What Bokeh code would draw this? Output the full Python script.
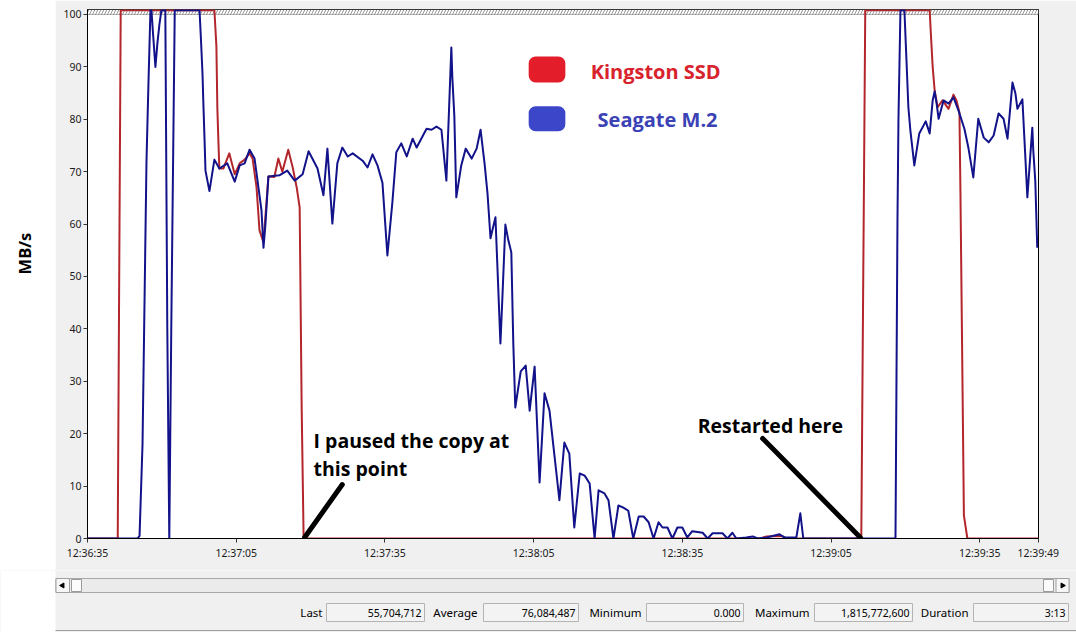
import math
from bokeh.plotting import figure
from bokeh.models import Range1d, FixedTicker, BoxAnnotation, Label
from bokeh.layouts import row, column
from bokeh.embed import file_html
from bokeh.resources import INLINE
from bokeh.core.properties import value

# ---------------- data (seconds since 12:36:35, MB/s; 100.8 = clipped at chart top) ----
red_t = [0, 6.1, 6.7, 25.6, 26.0, 26.2, 26.4, 26.6, 27.4, 28.6, 29.7, 30.7, 31.7, 32.7, 33.3,
         34.1, 34.7, 35.5, 36.5, 37.7, 38.5, 39.3, 40.5, 41.4, 42.2, 42.8, 43.2, 43.6, 135.6,
         137.0, 140.0, 141.0, 156.1, 156.9, 169.9, 170.1, 170.5, 170.9, 171.5, 172.5, 173.7,
         174.7, 175.3, 175.9, 176.1, 176.8, 177.5, 191.8]
red_v = [0, 0, 100.8, 100.8, 94, 82, 76, 70.6, 70.6, 73.5, 69.5, 71.6, 72.3, 73.5, 72.5,
         67, 58.8, 56.5, 69.1, 69, 72.5, 70, 74.2, 70.8, 67, 63.2, 25.4, 0, 0,
         0.4, 0.5, 0, 0, 100.8, 100.8, 97, 90, 85.5, 82.3, 83.6, 82,
         84.7, 83.6, 81.3, 66.4, 4.4, 0, 0]

blue_t = [0, 10.1, 10.5, 11.1, 11.9, 12.3, 12.7, 12.9, 13.2, 13.7, 14.1, 14.5, 14.9, 15.7, 16.1,
          16.5, 16.9, 17.6, 22.6, 22.9, 23.2, 23.4, 23.6, 23.8, 24.6, 25.6, 26.6, 28.2, 29.7,
          30.7, 31.7, 32.7, 33.7, 34.3, 35.1, 35.5, 35.9, 36.5, 38.7, 40.3, 41.8, 43.4, 44.6,
          46.4, 47.6, 48.4, 49.4, 50.4, 51.4, 52.5, 53.5, 55.5, 56.5, 57.5, 58.5, 59.5, 60.5,
          61.5, 62.3, 63.3, 64.4, 65.6, 66.4, 68.4, 69.4, 70.4, 71.4, 72.4, 73.4, 73.6, 74.0,
          74.4, 75.4, 76.3, 77.5, 78.5, 79.3, 80.1, 80.7, 81.3, 82.3, 82.7, 83.3, 83.7, 84.3,
          84.9, 85.5, 85.9, 86.3, 87.4, 88.4, 89.2, 90.2, 91.2, 92.2, 93.2, 95.2, 96.2, 97.2,
          98.2, 99.3, 100.3, 101.3, 102.3, 103.1, 104.3, 105.1, 106.1, 107.1, 108.1, 109.1,
          110.1, 111.2, 112.2, 113.2, 114.2, 115.2, 116.0, 117.0, 118.0, 119.0, 120.0, 121.0,
          122.0, 124.1, 125.1, 126.1, 128.1, 129.1, 130.1, 130.9, 132.9, 134.2, 135.2, 137.0,
          139.6, 140.6, 143.0, 143.8, 144.4, 163.0, 163.4, 163.6, 164.0, 164.8, 165.2, 165.6,
          166.0, 166.8, 167.8, 169.1, 169.9, 170.5, 170.9, 171.3, 171.7, 172.7, 173.7, 174.7,
          175.7, 176.9, 177.7, 178.7, 179.7, 180.8, 181.8, 182.8, 183.8, 184.8, 185.6, 186.6,
          187.2, 187.6, 188.6, 189.2, 189.6, 190.6, 190.8, 191.2, 191.6]
blue_v = [0, 0, 0.5, 18, 72, 87, 100.8, 100.8, 96.6, 90, 94.5, 98, 100.8, 100.8, 40,
          0, 40, 100.8, 100.8, 95, 88.7, 82.3, 76.5, 70.2, 66.3, 72.3, 70.6, 71.6, 68.1,
          71.2, 71.6, 74.2, 72.5, 68.3, 62.6, 55.5, 60, 69.1, 69.3, 70.2, 68.3, 69.5, 73.9,
          70.6, 65.5, 74.4, 60.1, 71.6, 74.6, 72.9, 73.5, 72.1, 70.8, 73.3, 71.2, 67.9, 54,
          64.1, 73.7, 75.4, 72.9, 76.3, 74.6, 78.2, 78, 78.6, 78, 68.3, 93.7, 88, 80.7,
          65.1, 71.2, 74.4, 72.5, 74.4, 78, 71.6, 65.8, 57.3, 61.3, 51.7, 37.2, 46, 59.9,
          56.9, 54.6, 37.2, 25, 31.9, 33, 24.4, 32.8, 10.7, 27.7, 24.4, 7.3, 18.3, 16.2,
          2.1, 12.4, 12, 10.5, 0, 9.2, 8.6, 7.3, 0, 6.3, 5.9, 5.3,
          0, 4.2, 4.2, 3.1, 0, 3.1, 2.1, 2.1, 0, 2.1, 2.1, 0.2,
          1.4, 1.1, 0, 1, 1, 0, 1.1, 0, 0.2, 0.4, 0, 0.2,
          0.8, 0.2, 0.2, 4.8, 0, 0, 60.7, 80, 100.8, 100.8, 91.6, 82.3,
          77.9, 71.2, 77.3, 79.6, 77.3, 83.6, 85.3, 83, 80.1, 83.6, 83, 84.2,
          81.7, 78.2, 74.6, 68.9, 80.1, 76.5, 75.6, 76.9, 81.1, 80.1, 76.3, 87,
          84.9, 82, 83.8, 72.7, 65.1, 78.4, 74, 68.3, 55.5]

y_ticks = [0, 10, 20, 30, 40, 50, 60, 70, 80, 90, 100]
x_tick_secs = [0, 30, 60, 90, 120, 150, 180, 191.8]
x_tick_labels = ["12:36:35", "12:37:05", "12:37:35", "12:38:05", "12:38:35",
                 "12:39:05", "12:39:35", "12:39:49"]

series_names = ["Kingston SSD", "Seagate M.2"]
note_paused = ["I paused the copy at", "this point"]
note_restart = "Restarted here"

status_labels = ["Last", "Average", "Minimum", "Maximum", "Duration"]
status_values = ["55,704,712", "76,084,487", "0.000", "1,815,772,600", "3:13"]

# ---------------- styles ----------------
RED_LINE = "#b3262c"
BLUE_LINE = "#12128a"
RED_KEY = "#e41d2a"
BLUE_KEY = "#3b46c9"
RED_TXT = "#d8222c"
BLUE_TXT = "#3a42b6"
PANEL = "#f0f0f0"
BOLD_FONT = "Open Sans"
UI_FONT = "Noto Sans"

# ---------------- main chart ----------------
p = figure(width=1021, height=570, x_range=Range1d(0, 191.85), y_range=Range1d(0, 100.95),
           output_backend="svg", toolbar_location=None,
           min_border_left=32, min_border_right=38, min_border_top=9, min_border_bottom=32,
           border_fill_color=PANEL, background_fill_color="white",
           outline_line_color="black", outline_line_width=1)
p.grid.visible = False

p.yaxis.ticker = FixedTicker(ticks=y_ticks)
p.xaxis.ticker = FixedTicker(ticks=x_tick_secs)
p.xaxis.major_label_overrides = {t: lab for t, lab in zip(x_tick_secs, x_tick_labels)}
for ax in (p.xaxis[0], p.yaxis[0]):
    ax.minor_tick_line_color = None
    ax.major_tick_in = 0
    ax.major_tick_out = 4
    ax.axis_line_color = "black"
    ax.major_tick_line_color = "#333333"
    ax.major_label_text_font = UI_FONT
    ax.major_label_text_font_size = "10.5px"
    ax.major_label_text_color = "#1a1a1a"
p.xaxis.major_label_standoff = 3
p.yaxis.major_label_standoff = 2

# hatched band above 100
p.add_layout(BoxAnnotation(bottom=100, fill_color="white", fill_alpha=1,
                           hatch_pattern="/", hatch_color="#7a7a7a", hatch_scale=6,
                           hatch_weight=0.8, line_color="black", line_width=1,
                           level="underlay"))

p.line(red_t, red_v, line_color=RED_LINE, line_width=2, line_join="round")
p.line(blue_t, blue_v, line_color=BLUE_LINE, line_width=2, line_join="round")

# legend (custom, rounded keys)
p.add_layout(BoxAnnotation(left=89.0, right=96.4, bottom=87.0, top=92.0,
                           fill_color=RED_KEY, fill_alpha=1, line_color=None, border_radius=7))
p.add_layout(BoxAnnotation(left=89.0, right=96.4, bottom=77.7, top=82.5,
                           fill_color=BLUE_KEY, fill_alpha=1, line_color=None, border_radius=7))
p.add_layout(Label(x=101.5, y=89.1, text=series_names[0], text_font=BOLD_FONT,
                   text_font_style="bold", text_font_size="20px", text_color=RED_TXT,
                   text_baseline="middle"))
p.add_layout(Label(x=102.9, y=80.0, text=series_names[1], text_font=BOLD_FONT,
                   text_font_style="bold", text_font_size="20px", text_color=BLUE_TXT,
                   text_baseline="middle"))

# annotations
for txt, yy in zip(note_paused, [18.7, 13.4]):
    p.add_layout(Label(x=45.6, y=yy, text=txt, text_font=BOLD_FONT,
                       text_font_style="bold", text_font_size="19.5px", text_color="black",
                       text_baseline="middle"))
p.add_layout(Label(x=123.1, y=21.6, text=note_restart, text_font=BOLD_FONT,
                   text_font_style="bold", text_font_size="19.5px", text_color="black",
                   text_baseline="middle"))
pointer_x0 = [43.8, 136.2]
pointer_y0 = [0.2, 19.1]
pointer_x1 = [51.4, 155.9]
pointer_y1 = [10.3, 0.2]
p.segment(pointer_x0, pointer_y0, pointer_x1, pointer_y1, line_color="black",
          line_width=5, line_cap="round")

# ---------------- left strip with y-axis title ----------------
q = figure(width=55, height=570, x_range=Range1d(0, 55), y_range=Range1d(0, 570),
           output_backend="svg", toolbar_location=None, x_axis_type=None, y_axis_type=None,
           min_border=0, outline_line_color=None, border_fill_color="white",
           background_fill_color="white")
q.grid.visible = False
q.text(x=[24], y=[307], text=["MB/s"], angle=math.pi / 2, text_font=value(BOLD_FONT),
       text_font_style="bold", text_font_size="16.5px", text_align="center",
       text_baseline="middle", text_color="black")

# ---------------- scrollbar + status bar (full window width) ----------------
s = figure(width=1076, height=62, x_range=Range1d(0, 1076), y_range=Range1d(632, 570),
           output_backend="svg", toolbar_location=None, x_axis_type=None, y_axis_type=None,
           min_border=0, outline_line_color=None, border_fill_color=PANEL,
           background_fill_color=PANEL)
s.grid.visible = False
s.quad(left=[0], right=[55], top=[570], bottom=[632], fill_color="white", line_color=None)
s.quad(left=[55.5], right=[1068.5], top=[578], bottom=[592], fill_color="#ebebeb",
       line_color="#a8a8a8", line_width=1)
s.quad(left=[55.5, 1055.5], right=[69, 1068.5], top=[578, 578], bottom=[592, 592],
       fill_color="#f6f6f6", line_color="#a0a0a0", line_width=1)
s.quad(left=[71, 1043], right=[81, 1053], top=[579, 579], bottom=[591, 591],
       fill_color="#fbfbfb", line_color="#9a9a9a", line_width=1)
s.scatter(x=[62, 1062], y=[585, 585], marker="triangle", size=5,
          angle=[math.pi / 2, -math.pi / 2], fill_color="black", line_color="black")

box_left = [326, 483, 646, 814, 973]
box_right = [424, 578, 743, 912, 1068]
label_right = [322, 477, 641, 809, 968]
s.quad(left=box_left, right=box_right, top=[603] * 5, bottom=[621] * 5,
       fill_color="#f3f3f3", line_color="#b4b4b4", line_width=1)
s.text(x=label_right, y=[612] * 5, text=status_labels, text_align="right",
       text_baseline="middle", text_font=value(UI_FONT), text_font_size="11.5px",
       text_color="black")
s.text(x=[r - 3 for r in box_right], y=[612] * 5, text=status_values, text_align="right",
       text_baseline="middle", text_font=value(UI_FONT), text_font_size="10.5px",
       text_color="black")
s.segment(x0=[55], y0=[630], x1=[1076], y1=[630], line_color="#a0a0a0", line_width=1)

layout = column(row(q, p), s)
open("out.html", "w").write(file_html(layout, INLINE))
